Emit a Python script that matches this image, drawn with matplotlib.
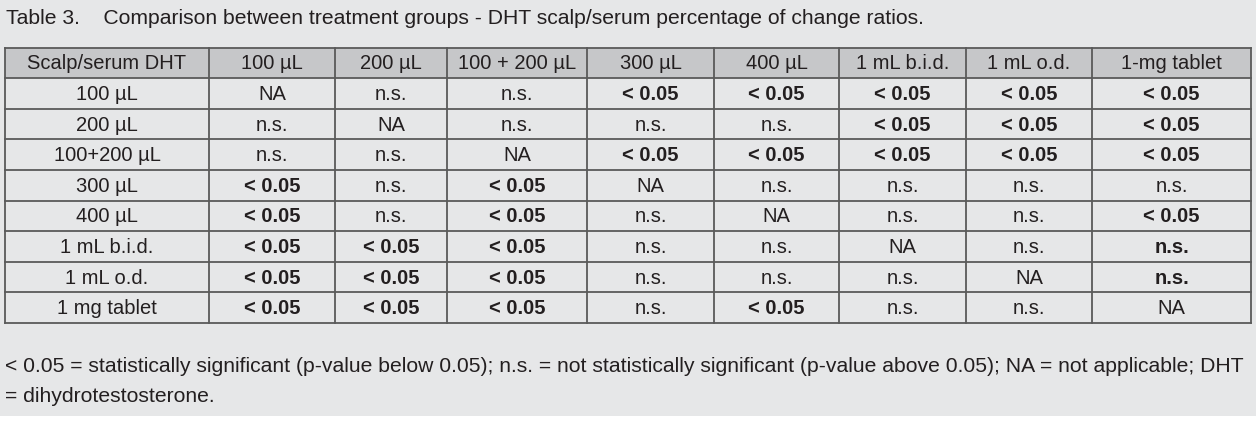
import matplotlib
matplotlib.use("Agg")
import matplotlib.pyplot as plt
from matplotlib.patches import Rectangle

plt.rcParams['font.family'] = ['Liberation Sans', 'DejaVu Sans']

title = "Table 3.    Comparison between treatment groups - DHT scalp/serum percentage of change ratios."
corner = "Scalp/serum DHT"
col_labels = ["100 µL", "200 µL", "100 + 200 µL", "300 µL", "400 µL",
              "1 mL b.i.d.", "1 mL o.d.", "1-mg tablet"]
row_labels = ["100 µL", "200 µL", "100+200 µL", "300 µL", "400 µL",
              "1 mL b.i.d.", "1 mL o.d.", "1 mg tablet"]
S = "< 0.05"
N = "n.s."
A = "NA"
cells = [
    [A, N, N, S, S, S, S, S],
    [N, A, N, N, N, S, S, S],
    [N, N, A, S, S, S, S, S],
    [S, N, S, A, N, N, N, N],
    [S, N, S, N, A, N, N, S],
    [S, S, S, N, N, A, N, N],
    [S, S, S, N, N, N, A, N],
    [S, S, S, N, S, N, N, A],
]
# cells drawn in bold besides every "< 0.05"
bold_extra = [(5, 7), (6, 7)]
footnote = ["< 0.05 = statistically significant (p-value below 0.05); n.s. = not statistically significant (p-value above 0.05); NA = not applicable; DHT",
            "= dihydrotestosterone."]

W, H = 1256, 426
fig = plt.figure(figsize=(W / 100, H / 100), dpi=100)
ax = fig.add_axes([0, 0, 1, 1])
ax.set_xlim(0, W)
ax.set_ylim(H, 0)
ax.axis("off")

bg = "#E6E7E8"
hdr = "#C6C7C9"
line = "#5A5A5A"
txt = "#231F20"

ax.add_patch(Rectangle((0, 0), W, 416, facecolor=bg, edgecolor="none", zorder=0))
ax.add_patch(Rectangle((0, 416), W, 10, facecolor="white", edgecolor="none", zorder=0))

col_edges = [5, 209, 335, 447, 587, 714, 839, 966, 1092, 1251]
top, bottom = 47.5, 323
nrows = len(row_labels) + 1
rh = (bottom - top) / nrows
row_edges = [top + i * rh for i in range(nrows + 1)]

ax.add_patch(Rectangle((col_edges[0], row_edges[0]), col_edges[-1] - col_edges[0], rh,
                       facecolor=hdr, edgecolor="none", zorder=1))
for y in row_edges:
    ax.plot([col_edges[0], col_edges[-1]], [y, y], color=line, lw=1.3, zorder=3,
            solid_capstyle="projecting")
for x in col_edges:
    ax.plot([x, x], [top, bottom], color=line, lw=1.3, zorder=3,
            solid_capstyle="projecting")

fs_title = 15.2
fs_note = 15.2
fs = 14.5
ax.text(6, 18, title, fontsize=fs_title, color=txt, ha="left", va="center")

def cx(j):
    return (col_edges[j] + col_edges[j + 1]) / 2

def cy(i):
    return (row_edges[i] + row_edges[i + 1]) / 2 + 1

ax.text(cx(0), cy(0), corner, fontsize=fs, color=txt, ha="center", va="center")
for j, lab in enumerate(col_labels):
    ax.text(cx(j + 1), cy(0), lab, fontsize=fs, color=txt, ha="center", va="center")
for i, lab in enumerate(row_labels):
    ax.text(cx(0), cy(i + 1), lab, fontsize=fs, color=txt, ha="center", va="center")
    for j, v in enumerate(cells[i]):
        bold = (v == S) or ((i, j) in bold_extra)
        ax.text(cx(j + 1), cy(i + 1), v, fontsize=fs, color=txt, ha="center", va="center",
                fontweight="bold" if bold else "normal")

ax.text(5, 367, footnote[0], fontsize=fs_note, color=txt, ha="left", va="center")
ax.text(5, 397, footnote[1], fontsize=fs_note, color=txt, ha="left", va="center")

fig.savefig("out.png", dpi=100, facecolor="white")
